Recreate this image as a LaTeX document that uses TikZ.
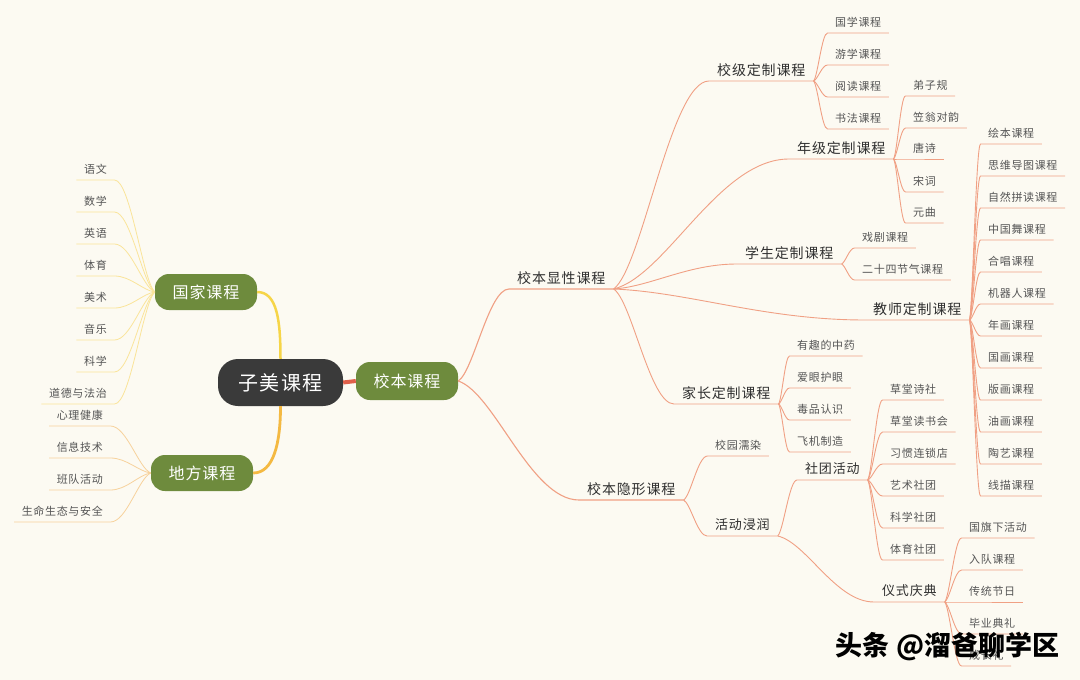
\documentclass[tikz,border=0pt]{standalone}
\usepackage{fontspec}
\setmainfont{Noto Sans CJK SC}
\newfontfamily\cjk{Noto Sans CJK SC}[LetterSpace=6]
\usetikzlibrary{calc}
\definecolor{bg}{HTML}{FCFAF2}
\definecolor{lnc}{HTML}{F0A084}
\definecolor{ylw}{HTML}{F6D548}
\definecolor{org}{HTML}{F4B942}
\definecolor{ylwl}{HTML}{FAE49A}
\definecolor{orgl}{HTML}{F7D29C}
\definecolor{grn}{HTML}{6E8B3D}
\definecolor{drk}{HTML}{3A3A3A}
\definecolor{redl}{HTML}{E0604A}
\definecolor{lfc}{HTML}{555555}
\definecolor{ltc}{HTML}{2F2F2F}
\tikzset{
  lf/.style={font=\cjk\fontsize{11}{11}\selectfont, text=lfc, inner xsep=7.5pt, inner ysep=5pt, text height=0.88em, text depth=0.12em, anchor=south west},
  lfr/.style={lf, anchor=south east},
  ltwo/.style={font=\cjk\fontsize{14}{14}\selectfont, text=ltc, inner xsep=8pt, inner ysep=4.5pt, text height=0.88em, text depth=0.12em, anchor=south west},
  lthree/.style={ltwo, font=\cjk\fontsize{13}{13}\selectfont, inner ysep=5pt},
  gbox/.style={fill=grn, text=white, rounded corners=14pt, minimum width=102pt, minimum height=38pt, inner sep=0pt, font=\cjk\fontsize{16}{16}\selectfont},
  zbox/.style={fill=drk, text=white, rounded corners=20pt, minimum width=125pt, minimum height=47pt, inner sep=0pt, font=\cjk\fontsize{20}{20}\selectfont},
  ln/.style={draw=lnc, line width=0.9pt},
  lnl/.style={draw=lnc, line width=1.1pt},
  yl/.style={draw=ylwl, line width=0.8pt},
  ol/.style={draw=orgl, line width=0.8pt},
  wm/.style={font=\bfseries\fontsize{27}{27}\selectfont, inner sep=0pt},
}
\newcommand\brr[3][ln]{\draw[#1] let \p1=(#2), \p2=(#3.south west) in (\p1) .. controls ({\x1+0.3*((\x2)-(\x1))},{\y1+0.1*((\y2)-(\y1))}) and ({\x1+0.6*((\x2)-(\x1))},{\y2}) .. (\p2) -- (#3.south east);}
\newcommand\brl[3][yl]{\draw[#1] let \p1=(#2), \p2=(#3.south east) in (\p1) .. controls ({\x1+0.3*((\x2)-(\x1))},{\y1+0.1*((\y2)-(\y1))}) and ({\x1+0.6*((\x2)-(\x1))},{\y2}) .. (\p2) -- (#3.south west);}
\begin{document}
\begin{tikzpicture}[x=1pt,y=-1pt]
\useasboundingbox (0,0) rectangle (1080,680);
\fill[bg] (0,0) rectangle (1080,680);

% main boxes
\node[zbox] (zm) at (280.5,382.5) {子美课程};
\node[gbox] (xb) at (407,381) {校本课程};
\node[gbox, minimum height=36pt] (gj) at (206,292) {国家课程};
\node[gbox, minimum height=36pt] (df) at (202,473) {地方课程};

\draw[redl, line width=4pt] (zm.east) -- (xb.west);
\draw[ylw, line width=2.5pt] (zm.north) .. controls ($(zm.north)+(0,-38)$) and ($(gj.east)+(20,0)$) .. (gj.east);
\draw[org, line width=2.8pt] (zm.south) .. controls ($(zm.south)+(0,38)$) and ($(df.east)+(20,0)$) .. (df.east);

% national leaves
\node[lfr] (yw) at (114.5,180) {语文};
\node[lfr] (sx) at (114.5,212) {数学};
\node[lfr] (yy) at (114.5,244) {英语};
\node[lfr] (ty) at (114.5,276) {体育};
\node[lfr] (ms) at (114.5,308) {美术};
\node[lfr] (yue) at (114.5,340) {音乐};
\node[lfr] (kx) at (114.5,372) {科学};
\node[lfr] (dd) at (114.5,404) {道德与法治};
\foreach \k in {yw,sx,yy,ty,ms,yue,kx,dd} {\brl{gj.west}{\k}}

% local leaves
\node[lfr] (xl) at (110.5,426) {心理健康};
\node[lfr] (xx) at (110.5,458) {信息技术};
\node[lfr] (bd) at (110.5,490) {班队活动};
\node[lfr] (sm) at (110.5,522) {生命生态与安全};
\foreach \k in {xl,xx,bd,sm} {\brl[ol]{df.west}{\k}}

% right level 2
\node[ltwo] (xbxx) at (509,289) {校本显性课程};
\node[ltwo] (xbyx) at (579,500) {校本隐形课程};
\brr[lnl]{xb.east}{xbxx}
\brr[lnl]{xb.east}{xbyx}

\node[ltwo] (xj) at (709,81) {校级定制课程};
\node[ltwo] (nj) at (789,159) {年级定制课程};
\node[ltwo] (xs) at (737,264) {学生定制课程};
\node[ltwo] (js) at (865,320) {教师定制课程};
\node[ltwo] (jz) at (674,404) {家长定制课程};
\foreach \k in {xj,nj,xs,js,jz} {\brr{xbxx.south east}{\k}}

% 校级
\node[lf] (gx) at (827.5,33) {国学课程};
\node[lf] (yx) at (827.5,65) {游学课程};
\node[lf] (yd) at (827.5,97) {阅读课程};
\node[lf] (sf) at (827.5,129) {书法课程};
\foreach \k in {gx,yx,yd,sf} {\brr{xj.south east}{\k}}

% 年级
\node[lf] (dz) at (905.5,96) {弟子规};
\node[lf] (lw) at (905.5,128) {笠翁对韵};
\node[lf] (ts) at (905.5,159) {唐诗};
\node[lf] (sc) at (905.5,192) {宋词};
\node[lf] (yq) at (905.5,223) {元曲};
\foreach \k in {dz,lw,ts,sc,yq} {\brr{nj.south east}{\k}}

% 学生
\node[lf] (xjk) at (854.5,248) {戏剧课程};
\node[lf] (es) at (854.5,280) {二十四节气课程};
\foreach \k in {xjk,es} {\brr{xs.south east}{\k}}

% 教师
\node[lf] (hb) at (980.5,144) {绘本课程};
\node[lf] (sw) at (980.5,176) {思维导图课程};
\node[lf] (zr) at (980.5,208) {自然拼读课程};
\node[lf] (zg) at (980.5,240) {中国舞课程};
\node[lf] (hc) at (980.5,272) {合唱课程};
\node[lf] (jq) at (980.5,304) {机器人课程};
\node[lf] (nh) at (980.5,336) {年画课程};
\node[lf] (gh) at (980.5,368) {国画课程};
\node[lf] (bh) at (980.5,400) {版画课程};
\node[lf] (yh) at (980.5,432) {油画课程};
\node[lf] (tyk) at (980.5,464) {陶艺课程};
\node[lf] (xm) at (980.5,496) {线描课程};
\foreach \k in {hb,sw,zr,zg,hc,jq,nh,gh,bh,yh,tyk,xm} {\brr{js.south east}{\k}}

% 家长
\node[lf] (yqz) at (789.5,356) {有趣的中药};
\node[lf] (ay) at (789.5,388) {爱眼护眼};
\node[lf] (dp) at (789.5,420) {毒品认识};
\node[lf] (fj) at (789.5,452) {飞机制造};
\foreach \k in {yqz,ay,dp,fj} {\brr{jz.south east}{\k}}

% 隐形
\node[lf] (xy) at (707.5,456) {校园濡染};
\node[lthree] (hd) at (707,536) {活动浸润};
\brr{xbyx.south east}{xy}
\brr{xbyx.south east}{hd}

\node[lthree] (st) at (797,480) {社团活动};
\node[lthree] (ysq) at (874,602) {仪式庆典};
\brr{hd.south east}{st}
\brr{hd.south east}{ysq}

\node[lf] (ct) at (882.5,400) {草堂诗社};
\node[lf] (cd) at (882.5,432) {草堂读书会};
\node[lf] (xg) at (882.5,464) {习惯连锁店};
\node[lf] (yst) at (882.5,496) {艺术社团};
\node[lf] (kxt) at (882.5,528) {科学社团};
\node[lf] (tyt) at (882.5,560) {体育社团};
\foreach \k in {ct,cd,xg,yst,kxt,tyt} {\brr{st.south east}{\k}}

\node[lf] (gq) at (961.5,538) {国旗下活动};
\node[lf] (rd) at (961.5,570) {入队课程};
\node[lf] (ctj) at (961.5,602) {传统节日};
\node[lf] (by) at (961.5,634) {毕业典礼};
\node[lf] (cz) at (961.5,666) {成长礼};
\foreach \k in {gq,rd,ctj,by,cz} {\brr{ysq.south east}{\k}}

% watermark
\node[wm, text=black] (wmk) at (947.5,647) {头条 @溜爸聊学区};
\end{tikzpicture}
\end{document}
